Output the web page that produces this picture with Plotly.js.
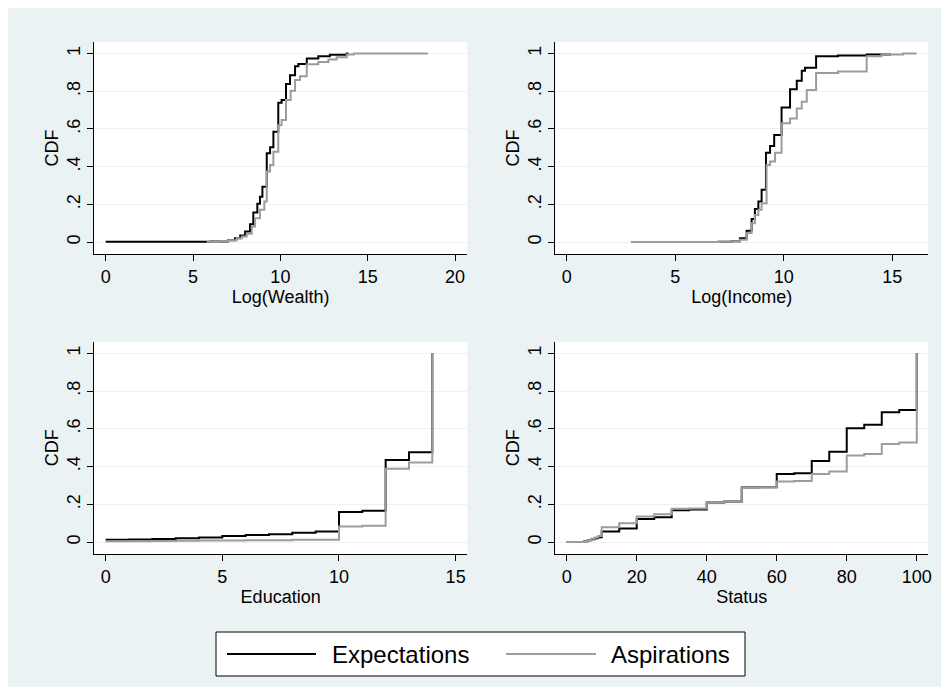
<!DOCTYPE html>
<html><head><meta charset="utf-8">
<script src="https://cdn.plot.ly/plotly-3.0.1.min.js"></script>
<style>html,body{margin:0;padding:0;background:#fff}</style>
</head><body><div id="chart" style="width:949px;height:695px"></div>
<script>
// ---- Data ----
const seriesNames = ["Expectations", "Aspirations"];
const xTitles = ["Log(Wealth)", "Log(Income)", "Education", "Status"];
const yTitle = "CDF";
const yTickVals = [0, 0.2, 0.4, 0.6, 0.8, 1];
const yTickText = ["0", ".2", ".4", ".6", ".8", "1"];

// Panel 1: Log(Wealth)
const wealthExpX = [0, 6.0, 7.0, 7.4, 7.7, 7.98, 8.26, 8.45, 8.68, 8.83, 8.97, 9.22, 9.41, 9.6, 9.88, 10.07, 10.32, 10.55, 10.84, 11.03, 11.51, 12.17, 12.83, 13.8, 13.9];
const wealthExpY = [0.002, 0.003, 0.01, 0.02, 0.035, 0.056, 0.095, 0.157, 0.203, 0.241, 0.294, 0.471, 0.503, 0.585, 0.739, 0.753, 0.838, 0.885, 0.933, 0.944, 0.974, 0.986, 0.993, 1.0, 1.0];
const wealthAspX = [5.78, 6.5, 7.0, 7.5, 7.8, 8.07, 8.36, 8.55, 8.83, 9.08, 9.22, 9.41, 9.6, 9.88, 10.07, 10.32, 10.59, 10.84, 11.12, 11.51, 12.17, 12.75, 13.22, 13.8, 14.2, 18.44];
const wealthAspY = [0.002, 0.005, 0.01, 0.02, 0.03, 0.044, 0.083, 0.127, 0.171, 0.215, 0.374, 0.409, 0.479, 0.62, 0.647, 0.753, 0.802, 0.859, 0.88, 0.943, 0.955, 0.968, 0.98, 0.995, 1.0, 1.0];

// Panel 2: Log(Income)
const incomeExpX = [3.38, 7.0, 7.6, 7.98, 8.29, 8.52, 8.67, 8.83, 8.98, 9.18, 9.37, 9.56, 9.9, 10.29, 10.6, 10.83, 10.98, 11.49, 12.5, 13.82, 14.9];
const incomeExpY = [0.001, 0.002, 0.005, 0.021, 0.06, 0.123, 0.175, 0.215, 0.277, 0.474, 0.51, 0.568, 0.714, 0.81, 0.855, 0.908, 0.925, 0.986, 0.99, 0.995, 1.0];
const incomeAspX = [2.96, 7.0, 7.6, 7.98, 8.29, 8.52, 8.67, 8.83, 8.98, 9.21, 9.37, 9.6, 9.9, 10.29, 10.6, 10.83, 11.06, 11.49, 12.5, 13.82, 14.5, 15.5, 16.12];
const incomeAspY = [0.001, 0.002, 0.005, 0.012, 0.048, 0.1, 0.144, 0.171, 0.206, 0.409, 0.427, 0.474, 0.63, 0.656, 0.709, 0.744, 0.806, 0.897, 0.905, 0.986, 0.995, 1.0, 1.0];

// Panel 3: Education
const eduX = [0, 1, 2, 3, 4, 5, 6, 7, 8, 9, 10, 11, 12, 13, 14];
const eduExpY = [0.012, 0.014, 0.017, 0.02, 0.024, 0.032, 0.037, 0.042, 0.049, 0.056, 0.160, 0.166, 0.435, 0.476, 1.0];
const eduAspY = [0.004, 0.005, 0.006, 0.007, 0.008, 0.009, 0.010, 0.010, 0.012, 0.012, 0.083, 0.086, 0.388, 0.421, 1.0];

// Panel 4: Status
const statusX = [0, 5, 6, 7, 8, 9, 10, 15, 20, 25, 30, 35, 40, 45, 50, 55, 60, 65, 70, 75, 80, 85, 90, 95, 100];
const statusExpY = [0, 0.005, 0.01, 0.015, 0.02, 0.026, 0.056, 0.072, 0.122, 0.132, 0.169, 0.173, 0.21, 0.215, 0.289, 0.29, 0.361, 0.365, 0.43, 0.479, 0.603, 0.621, 0.688, 0.70, 1.0];
const statusAspY = [0, 0.005, 0.01, 0.018, 0.025, 0.032, 0.079, 0.1, 0.136, 0.148, 0.176, 0.178, 0.21, 0.215, 0.286, 0.29, 0.321, 0.323, 0.361, 0.374, 0.459, 0.467, 0.519, 0.527, 1.0];

// x tick values per panel
const xTicks1 = [0, 5, 10, 15, 20];
const xTicks2 = [0, 5, 10, 15];
const xTicks3 = [0, 5, 10, 15];
const xTicks4 = [0, 20, 40, 60, 80, 100];

// ---- Styling ----
const FONT = '"Liberation Sans", Arial, Helvetica, sans-serif';
const BLACK = '#000000';
const GRAY = '#9c9c9c';
const BG = '#eaf2f3';

const panels = [
  {xs: [wealthExpX, wealthAspX], ys: [wealthExpY, wealthAspY]},
  {xs: [incomeExpX, incomeAspX], ys: [incomeExpY, incomeAspY]},
  {xs: [eduX, eduX], ys: [eduExpY, eduAspY]},
  {xs: [statusX, statusX], ys: [statusExpY, statusAspY]}
];
const colors = [BLACK, GRAY];
const traces = [];
panels.forEach((p, i) => {
  const sfx = i === 0 ? '' : String(i + 1);
  for (let s = 0; s < 2; s++) {
    traces.push({
      type: 'scatter', mode: 'lines', name: seriesNames[s],
      x: p.xs[s], y: p.ys[s],
      line: {shape: 'hv', color: colors[s], width: 2},
      xaxis: 'x' + sfx, yaxis: 'y' + sfx,
      showlegend: false, hoverinfo: 'skip'
    });
  }
});

const W = 949, H = 695;
const colL = [94 / W, 467.3 / W];
const colR = [555.3 / W, 928.3 / W];
const rowT = [1 - 254 / H, 1 - 42 / H];
const rowB = [1 - 554 / H, 1 - 341.7 / H];

function xax(domain, range, ticks, title, anchor) {
  return {
    domain: domain, range: range, anchor: anchor,
    tickmode: 'array', tickvals: ticks, ticktext: ticks.map(String),
    ticks: 'outside', ticklen: 6, tickcolor: BLACK, tickwidth: 1,
    showline: true, linecolor: BLACK, linewidth: 1,
    showgrid: false, zeroline: false,
    tickfont: {family: FONT, size: 18, color: BLACK},
    title: {text: title, font: {family: FONT, size: 18, color: BLACK}, standoff: 4},
    fixedrange: true, automargin: false
  };
}
function yax(domain, anchor) {
  return {
    domain: domain, range: [-0.063, 1.061], anchor: anchor,
    tickmode: 'array', tickvals: yTickVals, ticktext: yTickText, tickangle: -90,
    ticks: 'outside', ticklen: 6, tickcolor: BLACK, tickwidth: 1,
    showline: true, linecolor: BLACK, linewidth: 1,
    showgrid: true, gridcolor: BG, gridwidth: 1, zeroline: false,
    tickfont: {family: FONT, size: 18, color: BLACK},
    title: {text: yTitle, font: {family: FONT, size: 18, color: BLACK}, standoff: 0},
    fixedrange: true, automargin: false
  };
}

// Legend geometry (pixels -> paper)
const px = v => v / W, py = v => 1 - v / H;
const legTop = 632, legBot = 676, legMid = 654;

const layout = {
  width: W, height: H, autosize: false,
  margin: {l: 0, r: 0, t: 0, b: 0, pad: 0},
  paper_bgcolor: BG, plot_bgcolor: '#ffffff',
  font: {family: FONT, color: BLACK},
  showlegend: false,
  xaxis: xax(colL, [-0.67, 20.70], xTicks1, xTitles[0], 'y'),
  yaxis: yax(rowT, 'x'),
  xaxis2: xax(colR, [-0.525, 16.66], xTicks2, xTitles[1], 'y2'),
  yaxis2: yax(rowT, 'x2'),
  xaxis3: xax(colL, [-0.50, 15.5], xTicks3, xTitles[2], 'y3'),
  yaxis3: yax(rowB, 'x3'),
  xaxis4: xax(colR, [-3.26, 103.3], xTicks4, xTitles[3], 'y4'),
  yaxis4: yax(rowB, 'x4'),
  shapes: [
    // white outer border
    {type: 'rect', xref: 'paper', yref: 'paper', x0: 0, x1: 1, y0: 0, y1: 1,
     line: {color: '#ffffff', width: 16}, fillcolor: 'rgba(0,0,0,0)', layer: 'above'},
    // legend box
    {type: 'rect', xref: 'paper', yref: 'paper', x0: px(216), x1: px(745), y0: py(legBot), y1: py(legTop),
     line: {color: BLACK, width: 1}, fillcolor: '#ffffff', layer: 'above'},
    {type: 'line', xref: 'paper', yref: 'paper', x0: px(227), x1: px(316), y0: py(legMid), y1: py(legMid),
     line: {color: BLACK, width: 2}, layer: 'above'},
    {type: 'line', xref: 'paper', yref: 'paper', x0: px(506), x1: px(596), y0: py(legMid), y1: py(legMid),
     line: {color: GRAY, width: 2}, layer: 'above'}
  ],
  annotations: [
    {xref: 'paper', yref: 'paper', x: px(330), y: py(legMid), xanchor: 'left', yanchor: 'middle',
     text: seriesNames[0], showarrow: false, font: {family: FONT, size: 24, color: BLACK}},
    {xref: 'paper', yref: 'paper', x: px(609), y: py(legMid), xanchor: 'left', yanchor: 'middle',
     text: seriesNames[1], showarrow: false, font: {family: FONT, size: 24, color: BLACK}}
  ]
};

Plotly.newPlot('chart', traces, layout, {staticPlot: true, displayModeBar: false});
</script></body></html>
